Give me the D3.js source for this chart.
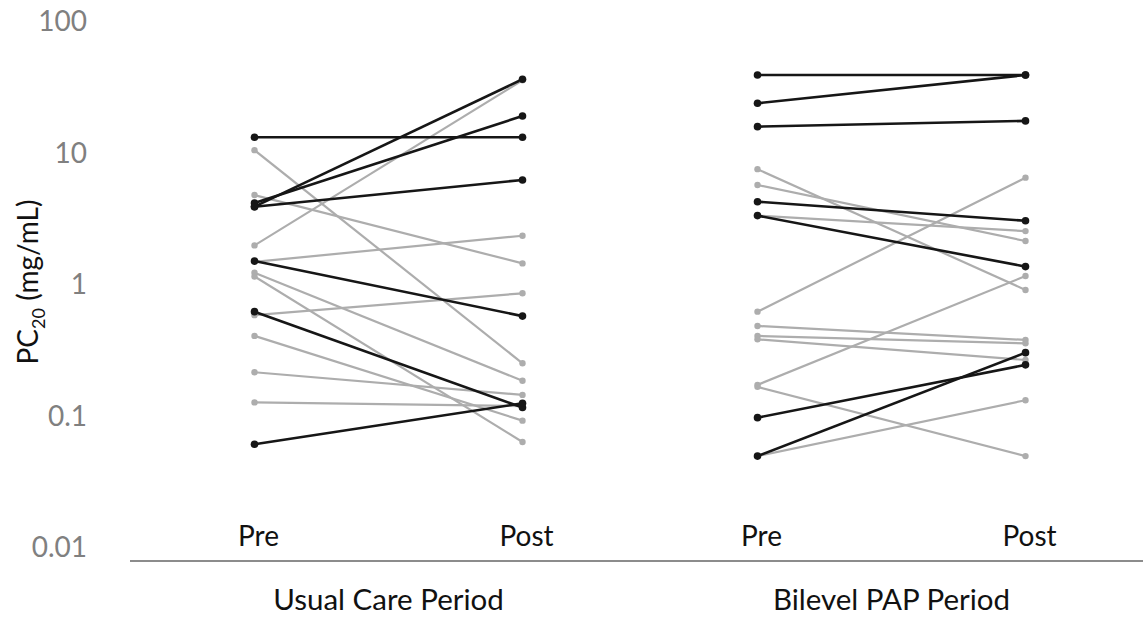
<!DOCTYPE html>
<html>
<head>
<meta charset="utf-8">
<script src="https://cdn.jsdelivr.net/npm/d3@7/dist/d3.min.js"></script>
<style>
  html, body { margin: 0; padding: 0; background: #fff; }
  svg { display: block; font-family: Lato, "Open Sans", sans-serif; }
</style>
</head>
<body>
<svg id="chart" width="1143" height="619"></svg>
<script>
// ---- data ----
const periods = ["Usual Care Period", "Bilevel PAP Period"];
const timepoints = ["Pre", "Post"];
const yTicks = [0.01, 0.1, 1, 10, 100];
const yTickLabels = ["0.01", "0.1", "1", "10", "100"];

// Usual Care Period
const ucBlackPre  = [13.3, 4.2, 3.94, 3.94, 1.52, 0.627, 0.0615];
const ucBlackPost = [13.3, 19.3, 36.7, 6.29, 0.58, 0.117, 0.126];
const ucGrayPre   = [10.6, 4.83, 2.0, 1.5, 1.24, 1.16, 0.59, 0.41, 0.217, 0.128];
const ucGrayPost  = [0.254, 1.46, 36, 2.37, 0.187, 0.064, 0.865, 0.093, 0.146, 0.12];

// Bilevel PAP Period
const bpBlackPre  = [39.5, 24.1, 16.0, 4.3, 3.37, 0.098, 0.05];
const bpBlackPost = [39.5, 39.5, 17.7, 3.08, 1.38, 0.247, 0.306];
const bpGrayPre   = [7.6, 5.76, 3.37, 0.627, 0.488, 0.41, 0.386, 0.174, 0.168, 0.05];
const bpGrayPost  = [0.917, 2.16, 2.57, 6.55, 0.382, 0.36, 0.269, 1.17, 0.05, 0.133];

// ---- build subject pairs ----
function pairs(period, pre, post, group) {
  return pre.map((v, i) => ({ period, group, pre: v, post: post[i] }));
}
const subjects = [
  ...pairs(periods[0], ucGrayPre, ucGrayPost, "gray"),
  ...pairs(periods[1], bpGrayPre, bpGrayPost, "gray"),
  ...pairs(periods[0], ucBlackPre, ucBlackPost, "black"),
  ...pairs(periods[1], bpBlackPre, bpBlackPost, "black")
];

// ---- scales ----
const svg = d3.select("#chart");
const y = d3.scaleLog().domain([0.01, 100]).range([548, 22]);
const xPeriod = d3.scaleBand().domain(periods).range([137, 1143]);
const xTime = d3.scalePoint().domain(timepoints)
  .range([xPeriod.bandwidth() / 2 - 134, xPeriod.bandwidth() / 2 + 134]);
const xPos = (p, t) => xPeriod(p) + xTime(t);

const style = {
  gray:  { stroke: "#adadad", width: 2.2, r: 3.2 },
  black: { stroke: "#161616", width: 2.6, r: 3.8 }
};

// ---- y axis ----
const yAxis = d3.axisLeft(y).tickValues(yTicks)
  .tickFormat((d, i) => yTickLabels[i]).tickSize(0).tickPadding(8);
const gy = svg.append("g").attr("transform", "translate(95,0)").call(yAxis);
gy.select(".domain").remove();
gy.selectAll("text")
  .attr("font-family", "Lato, sans-serif")
  .attr("font-size", 28)
  .attr("fill", "#808080");

// y title
const yt = svg.append("text")
  .attr("transform", "translate(38,282) rotate(-90)")
  .attr("text-anchor", "middle")
  .attr("font-size", 28)
  .attr("fill", "#111");
yt.append("tspan").text("PC");
yt.append("tspan").attr("font-size", 18).attr("dy", 7).text("20");
yt.append("tspan").attr("dy", -7).text(" (mg/mL)");

// ---- baseline ----
svg.append("line")
  .attr("x1", 130).attr("x2", 1143)
  .attr("y1", 561).attr("y2", 561)
  .attr("stroke", "#8c8c8c").attr("stroke-width", 2);

// ---- category labels ----
periods.forEach(p => {
  timepoints.forEach(t => {
    svg.append("text")
      .attr("x", xPos(p, t) + 4).attr("y", 546)
      .attr("text-anchor", "middle")
      .attr("font-size", 28).attr("fill", "#111")
      .text(t);
  });
  svg.append("text")
    .attr("x", xPeriod(p) + xPeriod.bandwidth() / 2).attr("y", 610)
    .attr("text-anchor", "middle")
    .attr("font-size", 29.5).attr("fill", "#111")
    .text(p);
});

// ---- lines and points ----
const g = svg.append("g");
g.selectAll("line.subj").data(subjects).join("line")
  .attr("class", "subj")
  .attr("x1", d => xPos(d.period, "Pre"))
  .attr("x2", d => xPos(d.period, "Post"))
  .attr("y1", d => y(d.pre))
  .attr("y2", d => y(d.post))
  .attr("stroke", d => style[d.group].stroke)
  .attr("stroke-width", d => style[d.group].width);

const pts = subjects.flatMap(d => [
  { x: xPos(d.period, "Pre"), v: d.pre, group: d.group },
  { x: xPos(d.period, "Post"), v: d.post, group: d.group }
]);
g.selectAll("circle").data(pts).join("circle")
  .attr("cx", d => d.x)
  .attr("cy", d => y(d.v))
  .attr("r", d => style[d.group].r)
  .attr("fill", d => style[d.group].stroke);
</script>
</body>
</html>
